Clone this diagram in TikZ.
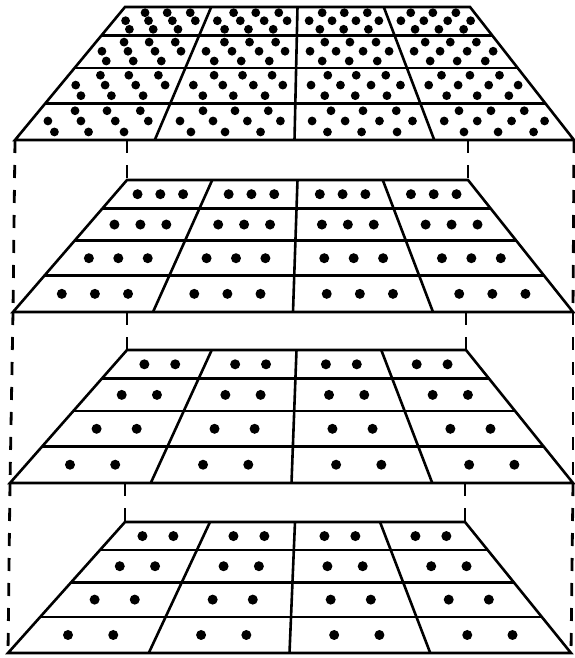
\documentclass[tikz,border=0pt]{standalone}
\usetikzlibrary{calc}
\tikzset{
  gridline/.style={line width=2.6pt, line join=miter},
  linkline/.style={line width=2.8pt, dash pattern=on 13pt off 12pt},
  dotfill/.style={fill=black}
}
% #1 T, #2 B, #3 tl, #4 tr, #5 bl, #6 br, #7 dot pattern, #8 name, #9 dot radius
\newcommand\drawlayer[9]{%
  \coordinate (#8-tl) at (#3,#1);
  \coordinate (#8-tr) at (#4,#1);
  \coordinate (#8-bl) at (#5,#2);
  \coordinate (#8-br) at (#6,#2);
  \foreach \fa/\fb in {0/0.215,0.215/0.46,0.46/0.725,0.725/1}{
    \foreach \j in {0,1,2,3}{
      \foreach \u/\v in {#7}{
        \pgfmathsetmacro\ff{\fa+\v*(\fb-\fa)}
        \pgfmathsetmacro\yy{#1+\ff*(#2-#1)}
        \pgfmathsetmacro\xl{#3+\ff*(#5-#3)}
        \pgfmathsetmacro\xr{#4+\ff*(#6-#4)}
        \pgfmathsetmacro\xx{\xl+(\j+\u)/4*(\xr-\xl)}
        \fill[dotfill] (\xx,\yy) circle[radius=#9];
      }
    }
  }
  \foreach \f in {0.215,0.46,0.725}{
    \draw[gridline] ({#3+\f*(#5-#3)},{#1+\f*(#2-#1)}) -- ({#4+\f*(#6-#4)},{#1+\f*(#2-#1)});
  }
  \foreach \j in {1,2,3}{
    \draw[gridline] ({#3+\j/4*(#4-#3)},#1) -- ({#5+\j/4*(#6-#5)},#2);
  }
  \draw[gridline] (#8-tl) -- (#8-tr) -- (#8-br) -- (#8-bl) -- cycle;
}
\begin{document}
\begin{tikzpicture}[x=1pt,y=-1pt]
\fill[white] (0,0) rectangle (575,658);
\useasboundingbox (0,0) rectangle (575,658);
\drawlayer{7}{140}{125}{470}{15}{574}{0.28/0.2,0.53/0.2,0.79/0.2,0.13/0.48,0.38/0.48,0.64/0.48,0.89/0.48,0.24/0.78,0.49/0.78,0.75/0.78}{LA}{4.4pt}
\drawlayer{180}{312}{127}{468}{13}{573}{0.25/0.5,0.5/0.5,0.75/0.5}{LB}{5pt}
\drawlayer{350}{483}{127}{466}{10}{573}{0.33/0.5,0.67/0.5}{LC}{5pt}
\drawlayer{522}{653}{125}{465}{8}{571}{0.33/0.5,0.67/0.5}{LD}{5pt}
% connectors between layers
\draw[linkline] (LA-bl) -- (LB-bl);
\draw[linkline] (LB-bl) -- (LC-bl);
\draw[linkline] (LC-bl) -- (LD-bl);
\draw[linkline] (LA-br) -- (LB-br);
\draw[linkline] (LB-br) -- (LC-br);
\draw[linkline] (LC-br) -- (LD-br);
\draw[linkline] (LB-tl |- LA-bl) -- (LB-tl);
\draw[linkline] (LC-tl |- LB-bl) -- (LC-tl);
\draw[linkline] (LD-tl |- LC-bl) -- (LD-tl);
\draw[linkline] (LB-tr |- LA-br) -- (LB-tr);
\draw[linkline] (LC-tr |- LB-br) -- (LC-tr);
\draw[linkline] (LD-tr |- LC-br) -- (LD-tr);
\end{tikzpicture}
\end{document}
